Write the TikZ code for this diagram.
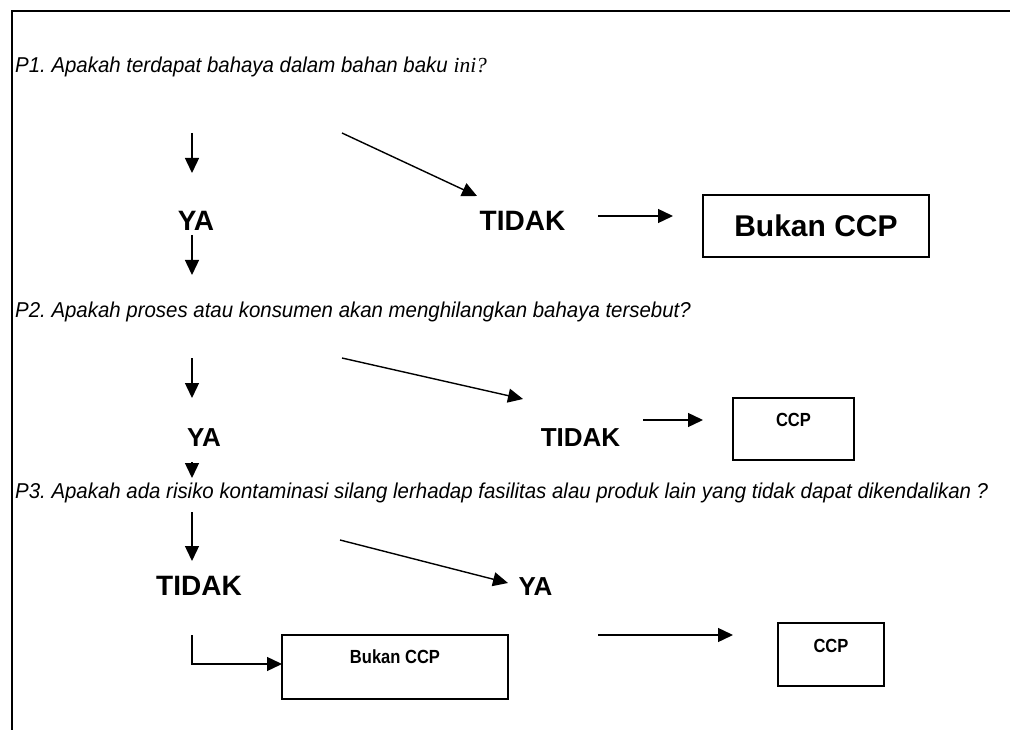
\documentclass[tikz,border=0pt]{standalone}
\usepackage{fontspec}
\setmainfont{Liberation Sans}
\newfontfamily\serifit{Liberation Serif}
\newfontfamily\qfont[FakeStretch=0.95]{Liberation Sans}
\newfontfamily\smallbf[FakeStretch=0.87]{Liberation Sans}
\usetikzlibrary{arrows.meta}
\frenchspacing
\begin{document}
\begin{tikzpicture}[x=1pt,y=-1pt,
  arr/.style={line width=1.4pt,-{Triangle[length=15pt,width=14pt]}},
  qtext/.style={anchor=west,inner sep=0,font=\qfont\fontsize{21.5}{24}\selectfont\itshape},
  bigword/.style={inner sep=0,font=\fontsize{28}{32}\selectfont\bfseries},
  midword/.style={inner sep=0,font=\fontsize{26}{30}\selectfont\bfseries},
  boxshape/.style={draw,line width=1.3pt,inner sep=0},
  smalltext/.style={inner sep=0,font=\smallbf\fontsize{19}{22}\selectfont\bfseries}]
\useasboundingbox (0,0) rectangle (1010,730);
\draw[line width=1.5pt] (1010,11) -- (12,11) -- (12,730);

% questions
\node[qtext] (p1) at (15,67) {P1. Apakah terdapat bahaya dalam bahan baku {\serifit\itshape ini?}};
\node[qtext] (p2) at (15,312) {P2. Apakah proses atau konsumen akan menghilangkan bahaya tersebut?};
\node[qtext] (p3) at (15,493) {P3. Apakah ada risiko kontaminasi silang lerhadap fasilitas alau produk lain yang tidak dapat dikendalikan ?};

% level 1
\node[bigword] (ya1) at (196,221) {YA};
\node[bigword] (tidak1) at (522.5,221) {TIDAK};
\node[boxshape,minimum width=226pt,minimum height=62pt,font=\fontsize{30}{34}\selectfont\bfseries] (box1) at (816,226) {Bukan CCP};

% level 2
\node[midword] (ya2) at (204,438) {YA};
\node[midword] (tidak2) at (580.5,438) {TIDAK};
\node[boxshape,minimum width=121pt,minimum height=62pt] (box2) at (793.5,429) {};
\node[smalltext] (ccp2) at (793.5,420) {CCP};

% level 3
\node[bigword] (tidak3) at (199,586) {TIDAK};
\node[midword] (ya3) at (535.5,587) {YA};
\node[boxshape,minimum width=226pt,minimum height=64pt] (box3) at (395,667) {};
\node[smalltext] (bukan3) at (395,657) {Bukan CCP};
\node[boxshape,minimum width=106pt,minimum height=63pt] (box4) at (831,654.5) {};
\node[smalltext] (ccp4) at (831,646) {CCP};

% connector end points
\coordinate (a1s) at (192,133); \coordinate (a1e) at (192,173);
\coordinate (a2s) at (192,235); \coordinate (a2e) at (192,275);
\coordinate (d1s) at (342,133); \coordinate (d1e) at (477,196);
\coordinate (h1s) at (598,216); \coordinate (h1e) at (673,216);
\coordinate (a3s) at (192,358); \coordinate (a3e) at (192,398);
\coordinate (a4s) at (192,462); \coordinate (a4e) at (192,478);
\coordinate (d2s) at (342,358); \coordinate (d2e) at (523,399);
\coordinate (h2s) at (643,420); \coordinate (h2e) at (703,420);
\coordinate (a5s) at (192,512); \coordinate (a5e) at (192,561);
\coordinate (d3s) at (340,540); \coordinate (d3e) at (508,583);
\coordinate (e0) at (192,635); \coordinate (e1) at (282,664);
\coordinate (h3s) at (598,635); \coordinate (h3e) at (733,635);

\draw[arr] (a1s) -- (a1e);
\draw[arr] (a2s) -- (a2e);
\draw[arr] (d1s) -- (d1e);
\draw[arr] (h1s) -- (h1e);
\draw[arr] (a3s) -- (a3e);
\draw[arr] (a4s) -- (a4e);
\draw[arr] (d2s) -- (d2e);
\draw[arr] (h2s) -- (h2e);
\draw[arr] (a5s) -- (a5e);
\draw[arr] (d3s) -- (d3e);
\draw[arr] (e0) |- (e1);
\draw[arr] (h3s) -- (h3e);
\end{tikzpicture}
\end{document}
